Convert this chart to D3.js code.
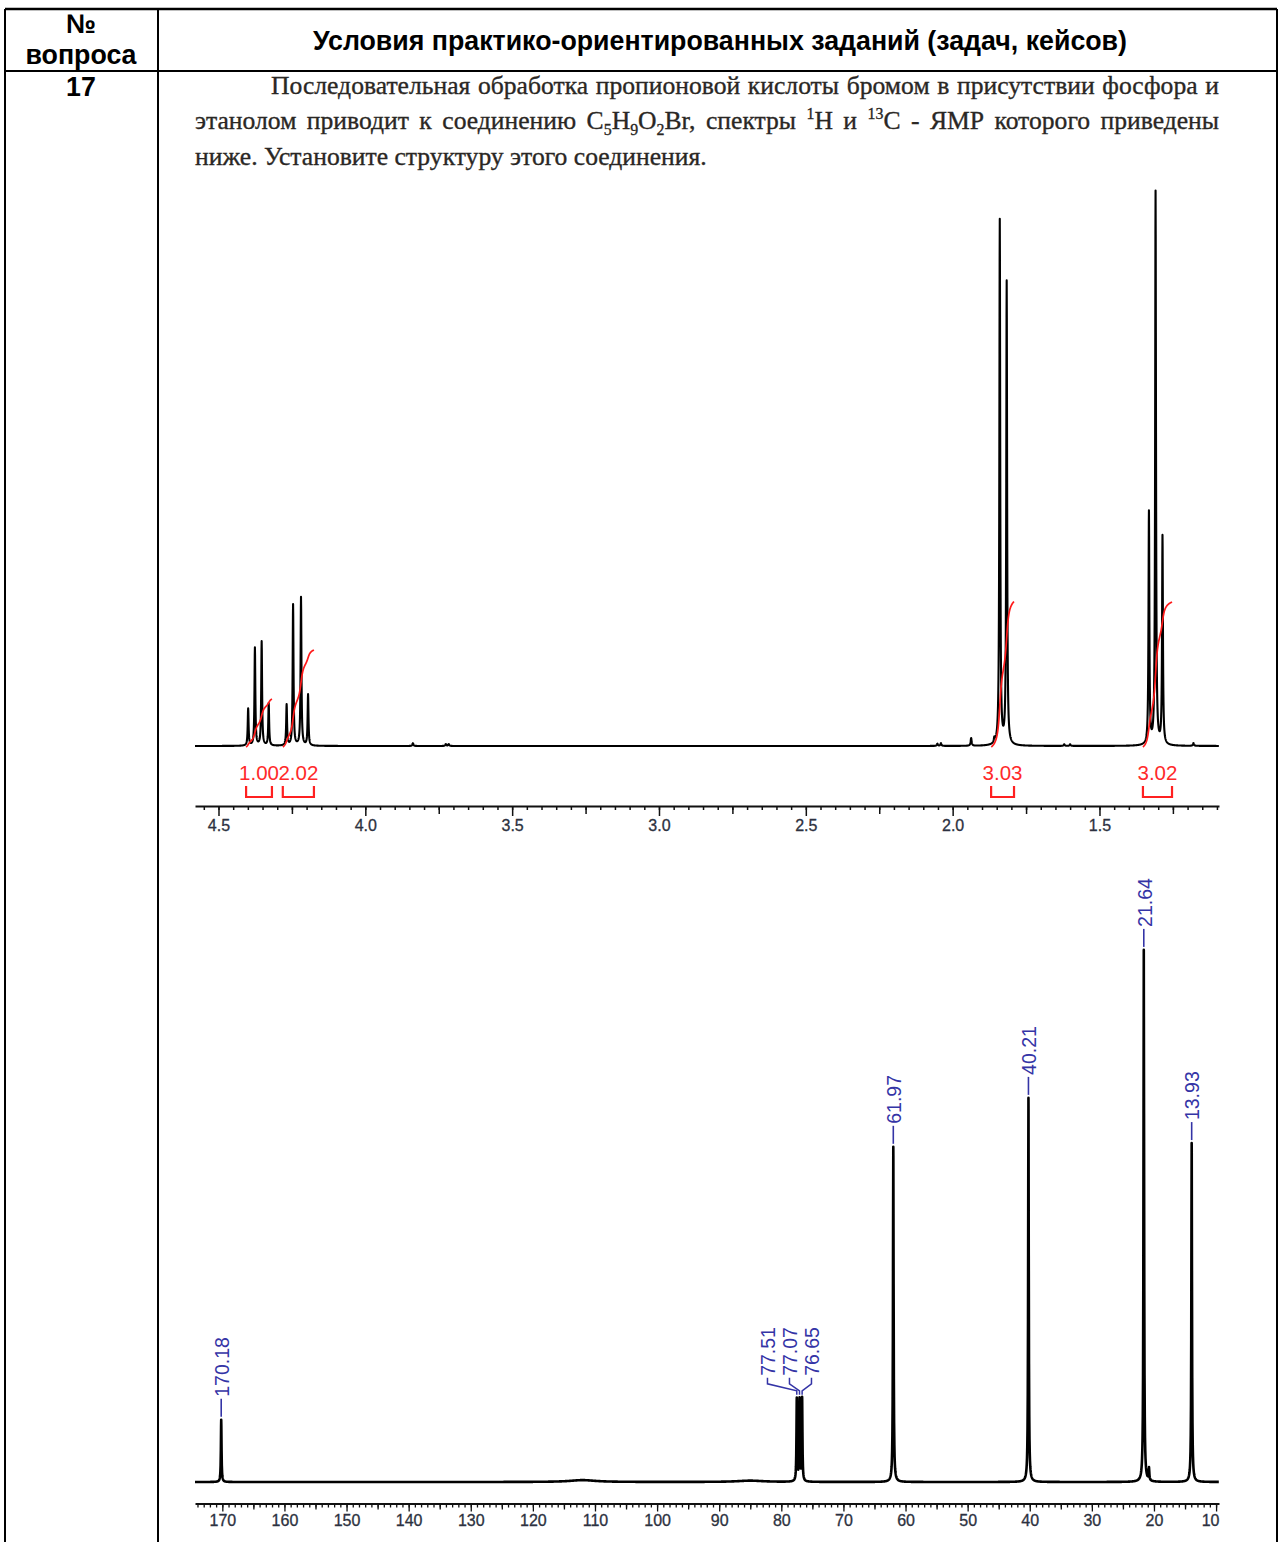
<!DOCTYPE html>
<html>
<head>
<meta charset="utf-8">
<script src="https://cdn.jsdelivr.net/npm/d3@7"></script>
<style>
  body { margin: 0; background: #fff; }
  svg { display: block; }
</style>
</head>
<body>
<svg id="page" width="1281" height="1542"></svg>
<script>
// ---------------- text of the table ----------------
const headerNo = ["№", "вопроса"];
const headerTitle = "Условия практико-ориентированных заданий (задач, кейсов)";
const questionNo = "17";
// body lines: plain words, or arrays of segments (k: "sub" / "sup")
const bodyLine1 = ["Последовательная", "обработка", "пропионовой", "кислоты", "бромом", "в", "присутствии", "фосфора", "и"];
const bodyLine2 = ["этанолом", "приводит", "к", "соединению",
  [{t: "C"}, {t: "5", k: "sub"}, {t: "H"}, {t: "9", k: "sub"}, {t: "O"}, {t: "2", k: "sub"}, {t: "Br,"}],
  "спектры", [{t: "1", k: "sup"}, {t: "H"}], "и", [{t: "13", k: "sup"}, {t: "C"}], "-", "ЯМР", "которого", "приведены"];
const bodyLine3 = "ниже. Установите структуру этого соединения.";

// ---------------- 1H spectrum ----------------
// peak list: chemical shift (ppm) and relative intensity
const hShifts  = [4.399, 4.376, 4.353, 4.329, 4.268, 4.246, 4.219, 4.195, 1.8395, 1.816, 1.3316, 1.309, 1.2854];
const hHeights = [6.7,   17.7,  18.8,  7.6,   7.4,   25.5,  26.8,  9.2,   94.9,   83.7,  42.0,   100,   37.6];
// weak impurity signals
const hMinorShifts  = [3.838, 3.726, 3.716, 2.052, 2.040, 1.937, 1.858, 1.620, 1.600, 1.180];
const hMinorHeights = [0.5,   0.35,  0.35,  0.4,   0.5,   1.4,   0.8,   0.3,   0.3,   0.5];
// integrals
const hIntFrom   = [4.406, 4.281, 1.869, 1.352];
const hIntTo     = [4.318, 4.175, 1.791, 1.253];
const hIntValues = [1.00, 2.02, 3.03, 3.02];
// axis ticks
const hTickLabels = [4.5, 4.0, 3.5, 3.0, 2.5, 2.0, 1.5];
const hMidTicks   = [4.25, 3.75, 3.25, 2.75, 2.25, 1.75, 1.25];

// ---------------- 13C spectrum ----------------
const cShifts  = [170.18, 77.51, 77.07, 76.65, 61.97, 40.21, 21.64, 20.80, 13.93];
const cHeights = [11.7,   15.5,  15.3,  15.6,  63.0,  72.2,  100,   2.3,   63.7];
const cBroadShifts  = [112.0, 85.0];
const cBroadHeights = [0.35, 0.25];
// labelled peaks
const cLabelShifts = [170.18, 77.51, 77.07, 76.65, 61.97, 40.21, 21.64, 13.93];
const cTickLabels = [170, 160, 150, 140, 130, 120, 110, 100, 90, 80, 70, 60, 50, 40, 30, 20, 10];
const cMidTicks   = [165, 155, 145, 135, 125, 115, 105, 95, 85, 75, 65, 55, 45, 35, 25, 15];

// =====================================================
const W = 1281, H = 1542;
const svg = d3.select("#page");
const SANS = "'Liberation Sans', Arial, sans-serif";
const SERIF = "'Liberation Serif', 'Times New Roman', serif";

// ---------- table frame ----------
const tblL = 5, tblR = 1277, tblT = 9, colDiv = 158, headB = 71;
svg.append("g").attr("stroke", "#000")
  .selectAll("line")
  .data([
    {x1: tblL, y1: tblT, x2: tblR, y2: tblT, w: 2.5},
    {x1: tblL, y1: headB, x2: tblR, y2: headB, w: 2.2},
    {x1: tblL, y1: tblT, x2: tblL, y2: H, w: 2},
    {x1: colDiv, y1: tblT, x2: colDiv, y2: H, w: 2},
    {x1: tblR, y1: tblT, x2: tblR, y2: H, w: 2}
  ])
  .join("line")
  .attr("x1", d => d.x1).attr("y1", d => d.y1)
  .attr("x2", d => d.x2).attr("y2", d => d.y2)
  .attr("stroke-width", d => d.w);

// ---------- header ----------
const title = svg.append("text")
  .attr("x", 720).attr("y", 50)
  .attr("text-anchor", "middle")
  .attr("font-family", SANS).attr("font-weight", "bold")
  .attr("font-size", 20).attr("fill", "#000")
  .text(headerTitle);
const hdrSize = 20 * 814 / title.node().getComputedTextLength();
title.attr("font-size", hdrSize);

svg.append("g").attr("font-family", SANS).attr("font-weight", "bold")
  .attr("font-size", hdrSize).attr("text-anchor", "middle").attr("fill", "#000")
  .selectAll("text").data(headerNo).join("text")
  .attr("x", 81).attr("y", (d, i) => i === 0 ? 33 : 64)
  .text(d => d);

svg.append("text").attr("x", 81).attr("y", 96)
  .attr("font-family", SANS).attr("font-weight", "bold")
  .attr("font-size", hdrSize).attr("text-anchor", "middle").attr("fill", "#000")
  .text(questionNo);

// ---------- body paragraph ----------
const body = svg.append("g").attr("font-family", SERIF)
  .attr("fill", "#2a2724").attr("stroke", "#2a2724").attr("stroke-width", 0.35);
const probe = body.append("text").attr("font-size", 20).text(bodyLine3);
const bodySize = 20 * 512 / probe.node().getComputedTextLength();
probe.remove();

function drawWord(g, segs, size) {
  const parts = typeof segs === "string" ? [{t: segs}] : segs;
  const t = g.append("text").attr("font-size", size);
  let shift = 0;
  parts.forEach(s => {
    const target = s.k === "sub" ? 0.22 * size : s.k === "sup" ? -0.38 * size : 0;
    const sp = t.append("tspan").text(s.t).attr("dy", target - shift);
    shift = target;
    if (s.k) sp.attr("font-size", size * 0.62);
  });
  return t;
}
function justifyLine(words, x0, x1, y) {
  const nodes = words.map(w => drawWord(body, w, bodySize));
  const widths = nodes.map(n => n.node().getComputedTextLength());
  const gap = (x1 - x0 - d3.sum(widths)) / (words.length - 1);
  let x = x0;
  nodes.forEach((n, i) => { n.attr("x", x).attr("y", y); x += widths[i] + gap; });
}
justifyLine(bodyLine1, 271, 1219, 93.5);
justifyLine(bodyLine2, 195, 1219, 129);
body.append("text").attr("font-size", bodySize).attr("x", 195).attr("y", 164.5).text(bodyLine3);

// ---------- Lorentzian line shapes ----------
function spectrum(shifts, heights, gamma) {
  const g2 = gamma * gamma;
  return d => {
    let s = 0;
    for (let i = 0; i < shifts.length; i++) {
      const dd = d - shifts[i];
      s += heights[i] * g2 / (g2 + dd * dd);
    }
    return s;
  };
}
function sampleGrid(hi, lo, step, extra) {
  const pts = d3.range(hi, lo, -step).concat(extra.filter(v => v <= hi && v >= lo));
  return pts.sort((a, b) => b - a);
}

// =============== 1H plot ===============
const xH = d3.scaleLinear().domain([4.58, 1.093]).range([195, 1219]);
const yH = d3.scaleLinear().domain([0, 100]).range([746, 193]);
const intY = d3.scaleLinear().domain([0, 1]).range([747, 699]);

const fMain = spectrum(hShifts, hHeights, 0.0017);
const fMinor = spectrum(hMinorShifts, hMinorHeights, 0.002);
const fH = d => fMain(d) + fMinor(d);
// broadened copy used for the running integral
const fHint = spectrum(hShifts, hHeights, 0.006);
const hGrid = sampleGrid(4.58, 1.093, 0.0005, hShifts.concat(hMinorShifts));
const hData = hGrid.map(d => [d, fH(d)]);

svg.append("path")
  .datum(hData)
  .attr("fill", "none").attr("stroke", "#000").attr("stroke-width", 2.1)
  .attr("stroke-linejoin", "round")
  .attr("d", d3.line().x(d => xH(d[0])).y(d => yH(d[1])));

// integral curves
const intG = svg.append("g");
hIntValues.forEach((v, i) => {
  const pts = hGrid.filter(d => d <= hIntFrom[i] && d >= hIntTo[i]);
  let cum = 0;
  const acc = pts.map((d, j) => {
    if (j > 0) cum += (fHint(d) + fHint(pts[j - 1])) / 2 * (pts[j - 1] - d);
    return [d, cum];
  });
  const total = cum;
  intG.append("path")
    .datum(acc)
    .attr("fill", "none").attr("stroke", "#ff1a1a").attr("stroke-width", 1.7)
    .attr("d", d3.line().x(d => xH(d[0])).y(d => intY(v * d[1] / total)));
});

// integral brackets and values
const brG = svg.append("g");
hIntValues.forEach((v, i) => {
  const a = xH(hIntFrom[i]), b = xH(hIntTo[i]);
  brG.append("path")
    .attr("d", `M${a},786V797H${b}V786`)
    .attr("fill", "none").attr("stroke", "#ff2020").attr("stroke-width", 2.2);
  brG.append("text")
    .attr("x", (a + b) / 2).attr("y", 779.5)
    .attr("text-anchor", "middle")
    .attr("font-family", SANS).attr("font-size", 20.5).attr("fill", "#ff2a2a")
    .text(d3.format(".2f")(v));
});

// 1H axis
const hAxisY = 806;
const hMinorTicks = d3.range(0, 70).map(i => +(4.55 - i * 0.05).toFixed(2)).filter(v => v >= 1.093);
function styleAxis(g, tickW) {
  g.selectAll(".tick line").attr("stroke", "#111").attr("stroke-width", tickW);
  g.selectAll(".tick text").attr("font-family", SANS).attr("font-size", 16)
    .attr("fill", "#2c3140").attr("stroke", "#2c3140").attr("stroke-width", 0.3);
}
const hAx1 = svg.append("g").attr("transform", `translate(0,${hAxisY})`)
  .call(d3.axisBottom(xH).tickValues(hMinorTicks).tickSize(4).tickSizeOuter(0).tickFormat(""));
hAx1.select(".domain").attr("stroke", "#111").attr("stroke-width", 2);
styleAxis(hAx1, 1.5);
const hAx2 = svg.append("g").attr("transform", `translate(0,${hAxisY})`)
  .call(d3.axisBottom(xH).tickValues(hMidTicks).tickSize(8).tickFormat(""));
hAx2.select(".domain").remove();
styleAxis(hAx2, 1.5);
const hAx3 = svg.append("g").attr("transform", `translate(0,${hAxisY})`)
  .call(d3.axisBottom(xH).tickValues(hTickLabels).tickSize(10).tickPadding(4).tickFormat(d3.format(".1f")));
hAx3.select(".domain").remove();
styleAxis(hAx3, 1.5);

// =============== 13C plot ===============
const xC = d3.scaleLinear().domain([174.4, 9.53]).range([195, 1219]);
const yC = d3.scaleLinear().domain([0, 100]).range([1482, 950]);

const fCp = spectrum(cShifts, cHeights, 0.06);
const fCb = spectrum(cBroadShifts, cBroadHeights, 2.5);
const fC = d => fCp(d) + fCb(d);
const cGrid = sampleGrid(174.4, 9.53, 0.04, cShifts);
svg.append("path")
  .datum(cGrid.map(d => [d, fC(d)]))
  .attr("fill", "none").attr("stroke", "#000").attr("stroke-width", 2.6)
  .attr("stroke-linejoin", "round")
  .attr("d", d3.line().x(d => xC(d[0])).y(d => yC(d[1])));

// peak labels
const LBL = "#3434a6";
const lblG = svg.append("g");
const lblSize = 19.5;
// group labels that would collide
const lblX = cLabelShifts.map(s => xC(s));
const groups = [];
cLabelShifts.forEach((s, i) => {
  const last = groups[groups.length - 1];
  if (last && lblX[i] - lblX[last[last.length - 1]] < 20) last.push(i); else groups.push([i]);
});
function rotLabel(x, yStart, txt) {
  lblG.append("text")
    .attr("transform", `translate(${x},${yStart}) rotate(-90)`)
    .attr("dy", "0.35em")
    .attr("font-family", SANS).attr("font-size", lblSize).attr("fill", LBL)
    .text(txt);
}
groups.forEach(grp => {
  if (grp.length === 1) {
    const i = grp[0];
    const s = cLabelShifts[i];
    const x = lblX[i];
    const top = yC(fC(s));
    lblG.append("line")
      .attr("x1", x).attr("x2", x).attr("y1", top - 3).attr("y2", top - 21)
      .attr("stroke", LBL).attr("stroke-width", 1.6);
    rotLabel(x + 1, top - 23, d3.format(".2f")(s));
  } else {
    const spacing = 22;
    const mid = d3.mean(grp, i => lblX[i]) - 10;
    const top = d3.min(grp, i => yC(fC(cLabelShifts[i])));
    grp.forEach((i, k) => {
      const lx = mid + (k - (grp.length - 1) / 2) * spacing;
      const px = lblX[i];
      lblG.append("path")
        .attr("d", `M${px},${top - 2}V${top - 6}L${lx},${top - 13}V${top - 19}`)
        .attr("fill", "none").attr("stroke", LBL).attr("stroke-width", 1.5);
      rotLabel(lx + 1, top - 21, d3.format(".2f")(cLabelShifts[i]));
    });
  }
});

// 13C axis
const cAxisY = 1503.5;
const cMinorTicks = d3.range(174, 9, -1);
const cAx1 = svg.append("g").attr("transform", `translate(0,${cAxisY})`)
  .call(d3.axisBottom(xC).tickValues(cMinorTicks).tickSize(4).tickSizeOuter(0).tickFormat(""));
cAx1.select(".domain").attr("stroke", "#111").attr("stroke-width", 2);
styleAxis(cAx1, 1.3);
const cAx2 = svg.append("g").attr("transform", `translate(0,${cAxisY})`)
  .call(d3.axisBottom(xC).tickValues(cMidTicks).tickSize(6).tickFormat(""));
cAx2.select(".domain").remove();
styleAxis(cAx2, 1.3);
const cAx3 = svg.append("g").attr("transform", `translate(0,${cAxisY})`)
  .call(d3.axisBottom(xC).tickValues(cTickLabels).tickSize(8).tickPadding(3).tickFormat(d3.format("d")));
cAx3.select(".domain").remove();
styleAxis(cAx3, 1.3);
// keep edge labels inside the axis span
cAx3.selectAll(".tick").each(function (d) {
  const t = d3.select(this).select("text");
  const w = t.node().getComputedTextLength();
  const cx = xC(d);
  if (cx + w / 2 > 1219) t.attr("x", 1219 - w / 2 - cx);
});
</script>
</body>
</html>
